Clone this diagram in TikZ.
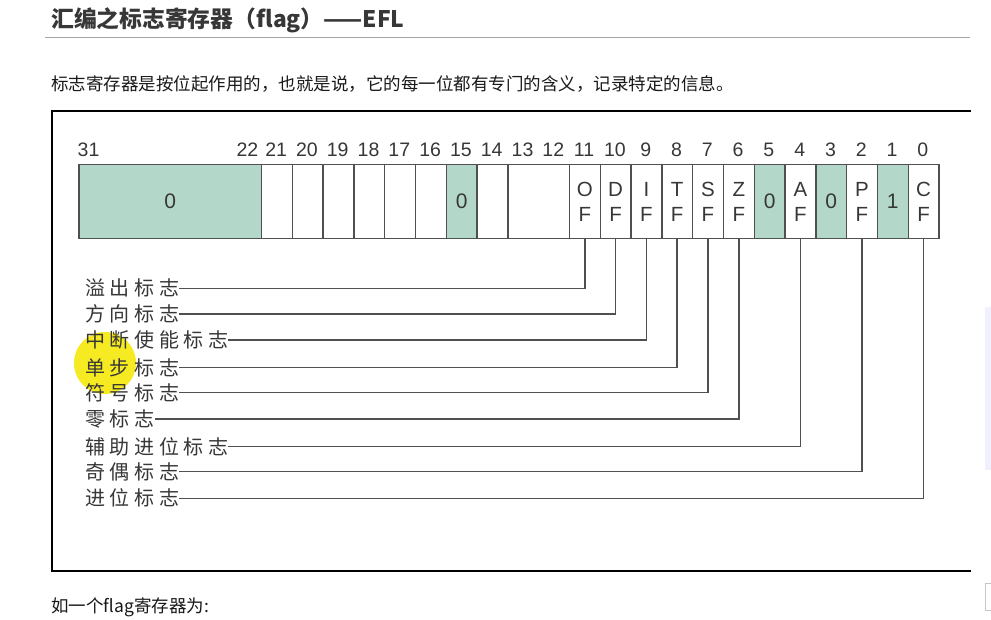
\documentclass[tikz,border=0pt]{standalone}
\usepackage{fontspec}
\setmainfont{Liberation Sans}
\newfontfamily\cjk{Noto Sans CJK SC}
\definecolor{regg}{RGB}{179,216,201}
\definecolor{celll}{RGB}{80,80,80}
\definecolor{txtg}{RGB}{55,55,55}
\definecolor{hl}{RGB}{246,232,10}
\def\spaced#1{\spacedA#1\relax}
\def\spacedA#1#2{#1\ifx#2\relax\else\kern4.6pt\expandafter\spacedA\expandafter#2\fi}
\tikzset{
  cell/.style={draw=celll,line width=1.4pt,anchor=north west,minimum width=30.8pt,minimum height=74pt,inner sep=0pt,
    text=txtg,align=center,font=\fontsize{20.5}{25}\selectfont},
  gcell/.style={cell,fill=regg,font=\fontsize{21}{21}\selectfont},
  num/.style={text=txtg,inner sep=0pt,font=\fontsize{19.5}{19.5}\selectfont},
  lab/.style={anchor=west,inner sep=0pt,text=txtg,font=\cjk\fontsize{20}{20}\selectfont},
  conn/.style={draw=celll,line width=1.5pt},
}
\begin{document}
\begin{tikzpicture}[x=1pt,y=-1pt]
\useasboundingbox[fill=white] (0,0) rectangle (991,620);
% page texts
\node[anchor=west,inner sep=0pt,text=txtg,font=\cjk\bfseries\fontsize{22.8}{22.8}\selectfont] (title) at (51,20) {汇编之标志寄存器（flag）——EFL};
\draw[gray!70,line width=0.9pt] (45,37.5) -- (970,37.5);
\node[anchor=west,inner sep=0pt,text=black!90,font=\cjk\fontsize{17.5}{17.5}\selectfont] (para) at (51,84) {标志寄存器是按位起作用的，也就是说，它的每一位都有专门的含义，记录特定的信息。};
\node[anchor=west,inner sep=0pt,text=black!90,font=\cjk\fontsize{17.5}{17.5}\selectfont] (bottom) at (51,607) {如一个flag寄存器为:};
% frame
\draw[line width=2.6pt] (971,111) -- (52,111) -- (52,571) -- (971,571);
% side artifacts
\fill[blue!6] (985,307) rectangle (991,470);
\draw[gray!45,line width=0.8pt] (985,583) rectangle (996,610);
% highlight
\fill[hl,opacity=0.9] (105,363) circle (31);
% register cells
\node[gcell,minimum width=182.4pt] (c31) at (78.3,164) {0};
\foreach \b in {21,20,19,18,17,16,14}{
  \node[cell] (c\b) at ({260.7+(21-\b)*30.8},164) {};
}
\node[gcell] (c15) at ({260.7+6*30.8},164) {0};
\node[cell,minimum width=61.6pt] (c13) at ({260.7+8*30.8},164) {};
\foreach \b/\l in {11/O,10/D,9/I,8/T,7/S,6/Z,4/A,2/P,0/C}{
  \node[cell] (c\b) at ({260.7+(21-\b)*30.8},164) {\l\\F};
}
\foreach \b/\v in {5/0,3/0,1/1}{
  \node[gcell] (c\b) at ({260.7+(21-\b)*30.8},164) {\v};
}
% bit numbers
\node[num,anchor=west] (n31) at (77.5,150) {31};
\node[num,anchor=east] (n22) at (258.5,150) {22};
\foreach \b in {21,20,...,0}{
  \node[num] (n\b) at ({260.7+(21-\b)*30.8+15.4},150) {\b};
}
% labels
\node[lab] (lOF) at (85,288.3) {\spaced{溢出标志}};
\node[lab] (lDF) at (85,314) {\spaced{方向标志}};
\node[lab] (lIF) at (85,340) {\spaced{中断使能标志}};
\node[lab] (lTF) at (85,367.7) {\spaced{单步标志}};
\node[lab] (lSF) at (85,392.7) {\spaced{符号标志}};
\node[lab] (lZF) at (85,419) {\spaced{零标志}};
\node[lab] (lAF) at (85,446.7) {\spaced{辅助进位标志}};
\node[lab] (lPF) at (85,471.7) {\spaced{奇偶标志}};
\node[lab] (lCF) at (85,498.3) {\spaced{进位标志}};
% connectors
\draw[conn] (c11.south) |- (lOF.east);
\draw[conn] (c10.south) |- (lDF.east);
\draw[conn] (c9.south) |- (lIF.east);
\draw[conn] (c8.south) |- (lTF.east);
\draw[conn] (c7.south) |- (lSF.east);
\draw[conn] (c6.south) |- (lZF.east);
\draw[conn] (c4.south) |- (lAF.east);
\draw[conn] (c2.south) |- (lPF.east);
\draw[conn] (c0.south) |- (lCF.east);
\end{tikzpicture}
\end{document}
